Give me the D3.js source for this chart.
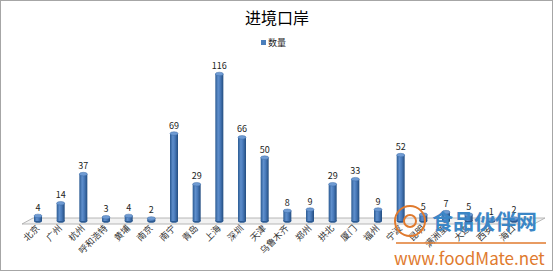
<!DOCTYPE html>
<html lang="zh">
<head>
<meta charset="utf-8"/>
<script src="https://d3js.org/d3.v7.min.js"></script>
<style>
  body { margin: 0; background: #fff; }
  text { font-family: "Noto Sans CJK SC", "DejaVu Sans", sans-serif; }
</style>
</head>
<body>
<div id="chart"></div>
<script>
// 进境口岸 - counts per port
var categories = ["北京", "广州", "杭州", "呼和浩特", "黄埔", "南京", "南宁", "青岛", "上海", "深圳", "天津",
                  "乌鲁木齐", "郑州", "拱北", "厦门", "福州", "宁波", "昆明", "满洲里", "大连", "西安", "海口"];
var values = [4, 14, 37, 3, 4, 2, 69, 29, 116, 66, 50, 8, 9, 29, 33, 9, 52, 5, 7, 5, 1, 2];
var seriesName = "数量";
var title = "进境口岸";

var width = 554, height = 273;
var base = 221;

var svg = d3.select("#chart").append("svg")
    .attr("width", width)
    .attr("height", height);

// outer frame
svg.append("rect")
    .attr("x", 0.5).attr("y", 0.5)
    .attr("width", width - 2).attr("height", height - 3)
    .attr("fill", "#fff")
    .attr("stroke", "#a6a6a6");

var defs = svg.append("defs");
var grad = defs.append("linearGradient").attr("id", "cyl").attr("x1", "0").attr("x2", "1");
grad.append("stop").attr("offset", "0%").attr("stop-color", "#2b5a92");
grad.append("stop").attr("offset", "35%").attr("stop-color", "#5f8fcc");
grad.append("stop").attr("offset", "60%").attr("stop-color", "#4a7bbb");
grad.append("stop").attr("offset", "100%").attr("stop-color", "#234d80");

// title + legend
svg.append("text")
    .attr("x", 277).attr("y", 24)
    .attr("text-anchor", "middle")
    .attr("font-size", 16)
    .attr("fill", "#000")
    .text(title);

svg.append("rect")
    .attr("x", 261).attr("y", 40)
    .attr("width", 5).attr("height", 5)
    .attr("fill", "#4a7ebb");
svg.append("text")
    .attr("x", 268).attr("y", 46)
    .attr("font-size", 9)
    .attr("fill", "#222")
    .text(seriesName);

var x = d3.scalePoint()
    .domain(categories)
    .range([38, 514]);

var y = d3.scaleLinear()
    .domain([0, 116])
    .range([base, 74]);

// 3D floor
svg.append("polygon")
    .attr("points", "22,224 33,218 545,218 534,224")
    .attr("fill", "#f2f2f2")
    .attr("stroke", "#a6a6a6")
    .attr("stroke-width", 0.8);

var data = categories.map(function (c, i) { return { name: c, value: values[i] }; });
var bw = 8;

var bars = svg.selectAll(".bar")
    .data(data)
    .enter()
    .append("g")
    .attr("class", "bar");

bars.append("ellipse")
    .attr("cx", function (d) { return x(d.name); })
    .attr("cy", base)
    .attr("rx", bw / 2).attr("ry", 1.8)
    .attr("fill", "#2b5a92");

bars.append("rect")
    .attr("x", function (d) { return x(d.name) - bw / 2; })
    .attr("y", function (d) { return y(d.value); })
    .attr("width", bw)
    .attr("height", function (d) { return base - y(d.value); })
    .attr("fill", "url(#cyl)");

bars.append("ellipse")
    .attr("cx", function (d) { return x(d.name); })
    .attr("cy", function (d) { return y(d.value); })
    .attr("rx", bw / 2).attr("ry", 1.8)
    .attr("fill", "#6f9bd3")
    .attr("stroke", "#3a6aa6")
    .attr("stroke-width", 0.5);

bars.append("text")
    .attr("x", function (d) { return x(d.name); })
    .attr("y", function (d) { return y(d.value) - 5; })
    .attr("text-anchor", "middle")
    .attr("font-size", 9)
    .attr("fill", "#222")
    .text(function (d) { return d.value; });

// category labels, rotated
svg.selectAll(".xlab")
    .data(categories)
    .enter()
    .append("text")
    .attr("class", "xlab")
    .attr("transform", function (d) { return "translate(" + (x(d) + 2) + ",229) rotate(-45)"; })
    .attr("text-anchor", "end")
    .attr("font-size", 9)
    .attr("fill", "#333")
    .text(function (d) { return d; });

// watermark
var wm = svg.append("g");
wm.append("circle").attr("cx", 410).attr("cy", 221).attr("r", 15)
    .attr("fill", "none").attr("stroke", "#e07a2e").attr("stroke-width", 2);
wm.append("circle").attr("cx", 410).attr("cy", 221).attr("r", 6)
    .attr("fill", "none").attr("stroke", "#e07a2e").attr("stroke-width", 2);
wm.append("text").attr("x", 432).attr("y", 229)
    .attr("font-size", 21).attr("font-weight", "bold").attr("fill", "#3b86c6")
    .text("食品伙伴网");
wm.append("line").attr("x1", 396).attr("x2", 546).attr("y1", 243).attr("y2", 243)
    .attr("stroke", "#e07a2e").attr("stroke-width", 1.5);
wm.append("text").attr("x", 394).attr("y", 265)
    .attr("font-size", 17).attr("fill", "#e07a2e")
    .attr("font-family", "Liberation Sans, sans-serif")
    .text("www.foodMate.net");
</script>
</body>
</html>
